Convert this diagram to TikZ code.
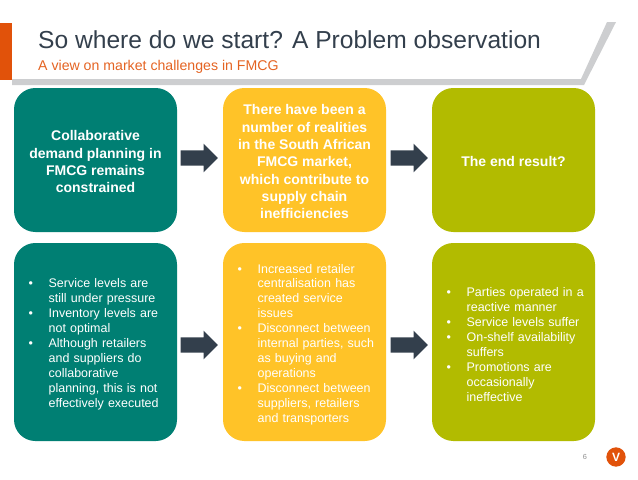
\documentclass[tikz,border=0pt]{standalone}
\usepackage{fontspec}
\setmainfont{Liberation Sans}
\usepackage{xcolor}
\usetikzlibrary{shapes.arrows}
\definecolor{tealbox}{HTML}{007F73}
\definecolor{yellowbox}{HTML}{FFC328}
\definecolor{olivebox}{HTML}{B2BB00}
\definecolor{slate}{HTML}{333F4C}
\definecolor{accent}{HTML}{E1520A}
\definecolor{rulegrey}{HTML}{CDCED0}
\newcommand{\blt}{\hspace*{11pt}\makebox[15pt][l]{\textbullet}}
\newcommand{\ind}{\hspace*{26pt}}
\newcommand{\lift}{\rule{0pt}{10.5pt}}

\begin{document}
\begin{tikzpicture}[
  x=0.75pt,y=-0.75pt,
  every node/.style={align=center},
  panel/.style={rounded corners=16pt,minimum width=122.25pt,minimum height=108pt,
                inner sep=0pt,text=white,
                font=\fontsize{10.5pt}{13pt}\selectfont\bfseries},
  lowpanel/.style={panel,minimum height=148.5pt,text width=122.25pt,align=left,
                   font=\fontsize{9.35pt}{11.2pt}\selectfont},
  pointer/.style={single arrow,fill=slate,minimum width=21pt,minimum height=28pt,
                  single arrow head extend=5pt,inner sep=0pt,
                  single arrow tip angle=90}
]
  \useasboundingbox (0,0) rectangle (638,479);
  \fill[accent] (0,23) rectangle (12,80);
  \fill[rulegrey] (12,79) -- (581,79) -- (607,22) -- (616,22) -- (584,85) -- (12,85) -- cycle;

  \node[anchor=west,text=slate,font=\fontsize{18.45pt}{22pt}\selectfont] (title) at (33.5,40)
    {So where do we start? A Problem observation};
  \node[anchor=west,text=accent!90!white,font=\fontsize{10.6pt}{12pt}\selectfont] (sub) at (33.5,67)
    {A view on market challenges in FMCG};

  \node[panel,fill=tealbox] (demand) at (95.5,160)
    {\lift Collaborative\\demand planning in\\FMCG remains\\constrained};
  \node[panel,fill=yellowbox] (real) at (304.5,160)
    {\lift There have been a\\number of realities\\in the South African\\FMCG market,\\which contribute to\\supply chain\\inefficiencies};
  \node[panel,fill=olivebox] (result) at (513.5,160)
    {\lift The end result?};

  \node[lowpanel,fill=tealbox] (service) at (95.5,342) {%
    \lift\blt Service levels are\\
    \ind still under pressure\\
    \blt Inventory levels are\\
    \ind not optimal\\
    \blt Although retailers\\
    \ind and suppliers do\\
    \ind collaborative\\
    \ind planning, this is not\\
    \ind effectively executed};
  \node[lowpanel,fill=yellowbox] (central) at (304.5,342) {%
    \lift\blt Increased retailer\\
    \ind centralisation has\\
    \ind created service\\
    \ind issues\\
    \blt Disconnect between\\
    \ind internal parties, such\\
    \ind as buying and\\
    \ind operations\\
    \blt Disconnect between\\
    \ind suppliers, retailers\\
    \ind and transporters};
  \node[lowpanel,fill=olivebox] (parties) at (513.5,342) {%
    \lift\blt Parties operated in a\\
    \ind reactive manner\\
    \blt Service levels suffer\\
    \blt On-shelf availability\\
    \ind suffers\\
    \blt Promotions are\\
    \ind occasionally\\
    \ind ineffective};

  \node[pointer] (arrowa) at (195.5,158) {\rule{0pt}{11pt}};
  \node[pointer] (arrowb) at (405.5,158) {\rule{0pt}{11pt}};
  \node[pointer] (arrowc) at (195.5,345) {\rule{0pt}{11pt}};
  \node[pointer] (arrowd) at (405.5,345) {\rule{0pt}{11pt}};

  \node[text=black!45,font=\fontsize{5.5pt}{6pt}\selectfont] (page) at (585,457) {6};
  \node[circle,fill=accent,minimum size=14.5pt,inner sep=0pt,text=white,
        font=\fontsize{9pt}{10pt}\selectfont\bfseries] (badge) at (616,457) {V};
\end{tikzpicture}
\end{document}
